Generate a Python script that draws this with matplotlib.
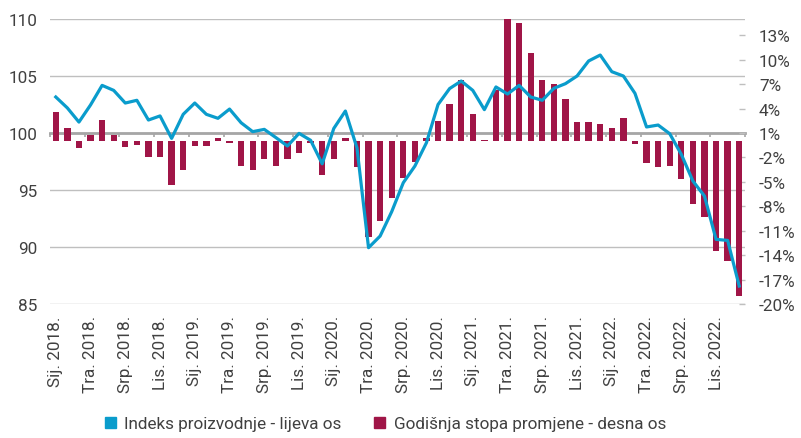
import numpy as np
import matplotlib
matplotlib.use('Agg')
from matplotlib import pyplot as plt
from matplotlib.patches import Patch

plt.rcParams['font.family'] = ['Roboto', 'DejaVu Sans']

# monthly data, Jan 2018 - Dec 2022
months = ['Sij.', 'Velj.', 'Ožu.', 'Tra.', 'Svi.', 'Lip.', 'Srp.', 'Kol.', 'Ruj.', 'Lis.', 'Stu.', 'Pro.']
years = [2018, 2019, 2020, 2021, 2022]
periodLabels = ['%s %d.' % (m, y) for y in years for m in months]

# production index (left axis)
productionIndex = [103.16, 102.2, 100.96, 102.46, 104.18, 103.74, 102.63, 102.87, 101.14, 101.5,
                   99.53, 101.64, 102.63, 101.64, 101.29, 102.1, 100.9, 100.12, 100.32, 99.6,
                   98.86, 99.97, 99.36, 97.3, 100.4, 101.93, 98.7, 89.94, 90.96, 93.1,
                   95.64, 97.1, 99.15, 102.5, 103.9, 104.56, 103.74, 102.05, 104.04, 103.42,
                   104.18, 103.16, 102.87, 103.92, 104.33, 105.0, 106.32, 106.84, 105.38, 105.0,
                   103.48, 100.53, 100.7, 99.94, 98.13, 95.79, 94.47, 90.67, 90.58, 86.58]

# annual rate of change in % (right axis)
annualChange = [3.57, 1.6, -0.9, 0.8, 2.66, 0.8, -0.74, -0.53, -1.97, -1.97,
                -5.37, -3.57, -0.57, -0.57, 0.33, -0.2, -3.07, -3.57, -2.17, -3.07,
                -2.17, -1.43, -0.2, -4.14, -2.17, 0.33, -3.2, -11.8, -9.85, -6.97,
                -4.5, -2.55, 0.33, 2.47, 4.6, 7.5, 3.37, 0.16, 6.25, 14.95,
                14.47, 10.83, 7.5, 6.97, 5.16, 2.3, 2.3, 2.13, 1.56, 2.87,
                -0.33, -2.66, -3.2, -3.03, -4.63, -7.7, -9.3, -13.44, -14.67, -18.98]

leftTicks = [85, 90, 95, 100, 105, 110]
rightTicks = list(range(-20, 14, 3))

lineColor = '#0A9CCC'
barColor = '#A01547'
gridColor = '#BFBFBF'
axisColor = '#A6A6A6'
textColor = '#404040'
fontSize = 12.3

x = np.arange(len(productionIndex))

fig = plt.figure(figsize=(8.01, 4.39), dpi=100)
ax = fig.add_axes([0.0624, 0.3052, 0.8677, 0.6492])
axBar = ax.twinx()
axLine = ax.twinx()

# base axes: gridlines, left ticks, category axis crossing at 100
ax.set_xlim(-0.5, len(x) - 0.5)
ax.set_ylim(85, 110)
ax.set_yticks(leftTicks)
ax.yaxis.grid(True, color=gridColor, linewidth=1.0)
ax.set_axisbelow(True)
ax.tick_params(axis='y', length=0, pad=9, labelsize=fontSize, labelcolor=textColor)
for side in ['top', 'right', 'left']:
	ax.spines[side].set_visible(False)
ax.spines['bottom'].set_position(('data', 100))
ax.spines['bottom'].set_color(axisColor)
ax.spines['bottom'].set_linewidth(2)
ax.set_xticks(np.arange(-0.5, len(x), 3))
ax.tick_params(axis='x', labelbottom=False, length=3, width=1.2, color=axisColor, direction='out')

# labels at the bottom of the plot area
secax = ax.secondary_xaxis('bottom')
secax.set_xticks(x[::3], [periodLabels[i] for i in x[::3]])
secax.tick_params(length=0, pad=8, labelrotation=90, labelsize=fontSize, labelcolor=textColor)
secax.spines['bottom'].set_visible(False)

# bars on the right axis
axBar.bar(x, annualChange, width=0.55, color=barColor, zorder=2)
axBar.set_ylim(-20, 15)
axBar.set_yticks(rightTicks, ['%d%%' % t for t in rightTicks])
axBar.tick_params(axis='y', direction='in', length=4, width=1, color=gridColor, pad=10,
                  labelsize=fontSize, labelcolor=textColor)
for side in axBar.spines:
	axBar.spines[side].set_visible(False)

# index line on top
axLine.plot(x, productionIndex, color=lineColor, linewidth=2.3, solid_joinstyle='round')
axLine.set_ylim(85, 110)
axLine.set_yticks([])
for side in axLine.spines:
	axLine.spines[side].set_visible(False)

handles = [Patch(color=lineColor), Patch(color=barColor)]
labels = ['Indeks proizvodnje - lijeva os', 'Godišnja stopa promjene - desna os']
leg = fig.legend(handles, labels, loc='center', bbox_to_anchor=(0.481, 0.032), ncol=2, frameon=False,
                 fontsize=fontSize, handlelength=0.65, handleheight=0.65, handletextpad=0.5, columnspacing=1.9)
for t in leg.get_texts():
	t.set_color(textColor)

fig.savefig('out.png', dpi=100)
